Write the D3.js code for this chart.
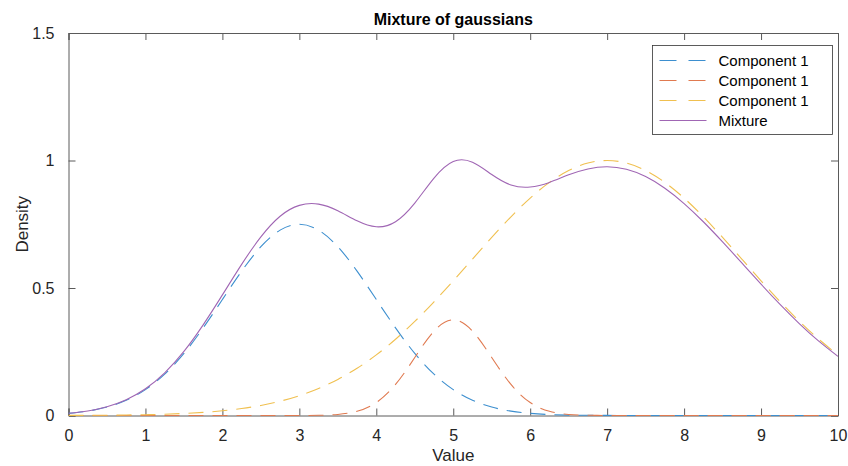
<!DOCTYPE html>
<html>
<head>
<meta charset="utf-8">
<script src="https://cdn.jsdelivr.net/npm/d3@7"></script>
<style>
  body { margin: 0; background: #fff; }
  svg { display: block; font-family: "Liberation Sans", Arial, Helvetica, sans-serif; }
  .tick-label { font-size: 16px; fill: #262626; }
</style>
</head>
<body>
<svg id="chart" width="848" height="466"></svg>
<script>
// Sample positions along the x axis
const xValues = [
  0, 0.25, 0.5, 0.75, 1, 1.25, 1.5, 1.75, 2, 2.25, 2.5, 2.75,
  3, 3.25, 3.5, 3.75, 4, 4.25, 4.5, 4.75, 5, 5.25, 5.5, 5.75,
  6, 6.25, 6.5, 6.75, 7, 7.25, 7.5, 7.75, 8, 8.25, 8.5, 8.75,
  9, 9.25, 9.5, 9.75, 10
];

// Densities
const component1 = [
  0.0083, 0.0171, 0.0330, 0.0597, 0.1015, 0.1622, 0.2435, 0.3434, 0.4549, 0.5661, 0.6619, 0.7269,
  0.7500, 0.7269, 0.6619, 0.5661, 0.4549, 0.3434, 0.2435, 0.1622, 0.1015, 0.0597, 0.0330, 0.0171,
  0.0083, 0.0038, 0.0016, 0.0007, 0.0003, 0.0001, 0, 0, 0, 0, 0, 0,
  0, 0, 0, 0, 0
];
const component2 = [
  0, 0, 0, 0, 0, 0, 0, 0, 0, 0, 0, 0,
  0.0001, 0.0008, 0.0042, 0.0165, 0.0508, 0.1217, 0.2274, 0.3309, 0.3750, 0.3309, 0.2274, 0.1217,
  0.0508, 0.0165, 0.0042, 0.0008, 0.0001, 0, 0, 0, 0, 0, 0, 0,
  0, 0, 0, 0, 0
];
const component3 = [
  0.0004, 0.0007, 0.0012, 0.0020, 0.0032, 0.0051, 0.0080, 0.0123, 0.0185, 0.0273, 0.0395, 0.0560,
  0.0778, 0.1060, 0.1416, 0.1853, 0.2378, 0.2991, 0.3688, 0.4458, 0.5282, 0.6134, 0.6983, 0.7793,
  0.8525, 0.9141, 0.9609, 0.9901, 1.0000, 0.9901, 0.9609, 0.9141, 0.8525, 0.7793, 0.6983, 0.6134,
  0.5282, 0.4458, 0.3688, 0.2991, 0.2378
];
const mixture = [
  0.0087, 0.0178, 0.0342, 0.0617, 0.1046, 0.1672, 0.2513, 0.3554, 0.4729, 0.5927, 0.7004, 0.7815,
  0.8240, 0.8290, 0.8030, 0.7633, 0.7400, 0.7600, 0.8330, 0.9310, 0.9960, 0.9930, 0.9450, 0.9040,
  0.8960, 0.9140, 0.9440, 0.9670, 0.9754, 0.9654, 0.9369, 0.8912, 0.8312, 0.7598, 0.6808, 0.5981,
  0.5150, 0.4347, 0.3596, 0.2916, 0.2319
];

const xTicks = [0, 1, 2, 3, 4, 5, 6, 7, 8, 9, 10];
const yTicks = [0, 0.5, 1, 1.5];

const seriesNames = ["Component 1", "Component 1", "Component 1", "Mixture"];
const seriesValues = [component1, component2, component3, mixture];
const seriesColors = ["#3d8fcf", "#e07a50", "#f0c050", "#a066b4"];
const seriesDashed = [true, true, true, false];

const MARGIN = {left: 68.5, right: 10, top: 33, bottom: 50.5};
const TICK_LEN = 7;

const svg = d3.select("#chart");
const width = +svg.attr("width");
const height = +svg.attr("height");

const x = d3.scaleLinear().domain([0, 10]).range([MARGIN.left, width - MARGIN.right]);
const y = d3.scaleLinear().domain([0, 1.5]).range([height - MARGIN.bottom, MARGIN.top]);

svg.append("clipPath").attr("id", "plot-clip")
  .append("rect")
  .attr("x", x(0)).attr("y", y(1.5))
  .attr("width", x(10) - x(0)).attr("height", y(0) - y(1.5) + 2);

// Axes (box on, ticks pointing inward on all four sides)
const axisColor = "#5a5a5a";

const addAxes = () => {
  const bottom = svg.append("g")
    .attr("transform", `translate(0,${y(0)})`)
    .call(d3.axisBottom(x).tickValues(xTicks).tickSize(-TICK_LEN).tickPadding(TICK_LEN + 7).tickFormat(d => d));
  const top = svg.append("g")
    .attr("transform", `translate(0,${y(1.5)})`)
    .call(d3.axisTop(x).tickValues(xTicks).tickSize(-TICK_LEN).tickFormat(""));
  const left = svg.append("g")
    .attr("transform", `translate(${x(0)},0)`)
    .call(d3.axisLeft(y).tickValues(yTicks).tickSize(-TICK_LEN).tickPadding(TICK_LEN + 7).tickFormat(d => d));
  const right = svg.append("g")
    .attr("transform", `translate(${x(10)},0)`)
    .call(d3.axisRight(y).tickValues(yTicks).tickSize(-TICK_LEN).tickFormat(""));

  [bottom, top, left, right].forEach(g => {
    g.select(".domain").attr("stroke", axisColor).attr("stroke-width", 1);
    g.selectAll(".tick line").attr("stroke", axisColor).attr("stroke-width", 1);
    g.selectAll(".tick text").attr("class", "tick-label").attr("font-family", null).attr("font-size", null);
  });
};

addAxes();

// Curves
const line = d3.line()
  .x((d, i) => x(xValues[i]))
  .y(d => y(d))
  .curve(d3.curveNatural);

const plot = svg.append("g").attr("clip-path", "url(#plot-clip)");
seriesValues.forEach((values, i) => {
  plot.append("path")
    .datum(values)
    .attr("fill", "none")
    .attr("stroke", seriesColors[i])
    .attr("stroke-width", 1.1)
    .attr("stroke-dasharray", seriesDashed[i] ? "15,9" : null)
    .attr("d", line);
});

// Labels
svg.append("text")
  .attr("x", (x(0) + x(10)) / 2).attr("y", 25)
  .attr("text-anchor", "middle")
  .attr("font-size", 16).attr("font-weight", "bold").attr("fill", "#000")
  .text("Mixture of gaussians");

svg.append("text")
  .attr("x", (x(0) + x(10)) / 2).attr("y", 461)
  .attr("text-anchor", "middle")
  .attr("font-size", 17).attr("fill", "#262626")
  .text("Value");

svg.append("text")
  .attr("transform", `translate(28,${(y(0) + y(1.5)) / 2}) rotate(-90)`)
  .attr("text-anchor", "middle")
  .attr("font-size", 17).attr("fill", "#262626")
  .text("Density");

// Legend
const legend = svg.append("g").attr("transform", "translate(652.5,45.5)");
legend.append("rect")
  .attr("width", 180).attr("height", 89)
  .attr("fill", "#fff").attr("stroke", "#333").attr("stroke-width", 0.8);

seriesNames.forEach((name, i) => {
  const row = legend.append("g").attr("transform", `translate(0,${15 + i * 20})`);
  row.append("line")
    .attr("x1", 7).attr("x2", 54)
    .attr("stroke", seriesColors[i]).attr("stroke-width", 1.1)
    .attr("stroke-dasharray", seriesDashed[i] ? "17,12" : null);
  row.append("text")
    .attr("x", 66).attr("y", 5.5)
    .attr("font-size", 15).attr("fill", "#000")
    .text(name);
});
</script>
</body>
</html>
